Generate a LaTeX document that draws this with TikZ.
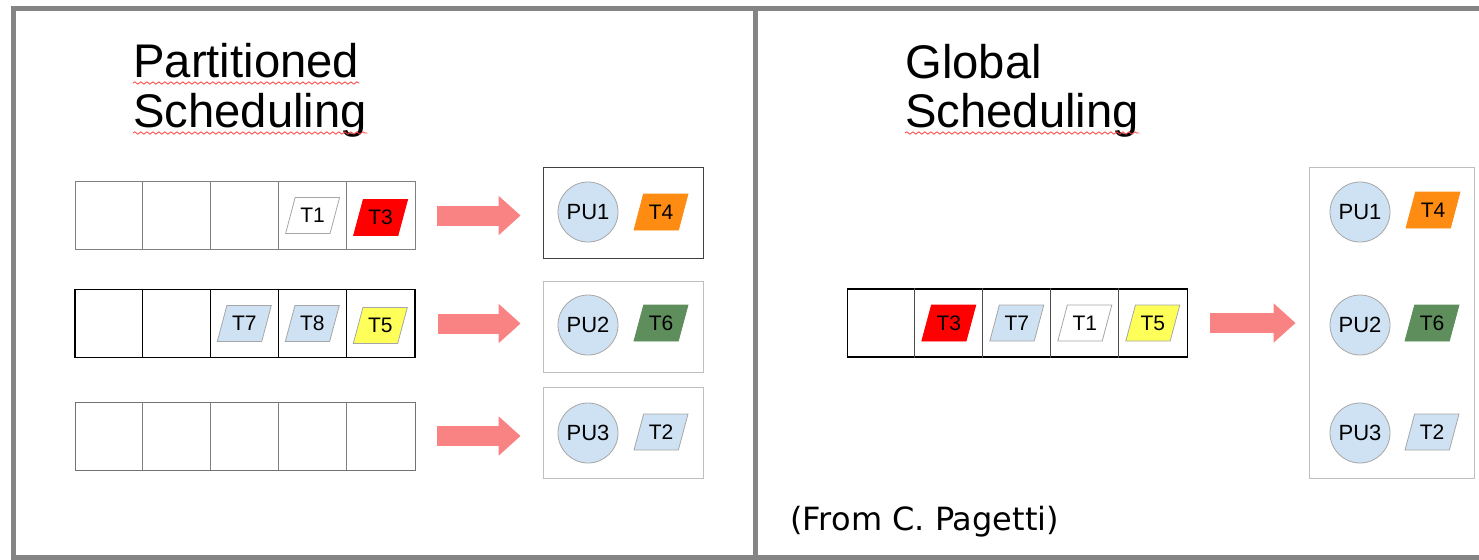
\documentclass[tikz,border=0pt]{standalone}
\usepackage{fontspec}
\setmainfont{Liberation Sans}
\newfontfamily\notefont{DejaVu Sans}
\usetikzlibrary{shapes.geometric,arrows.meta,decorations.pathmorphing,positioning}

\definecolor{framegray}{HTML}{858585}
\definecolor{pulblue}{HTML}{CFE2F3}
\definecolor{pinkarrow}{HTML}{F98282}
\definecolor{taskorange}{HTML}{FF8C12}
\definecolor{taskgreen}{HTML}{5E8E5C}
\definecolor{taskyellow}{HTML}{FFFF5A}

\tikzset{
  title/.style={anchor=base west, inner sep=0pt, font=\fontsize{23.6}{25}\selectfont},
  squiggle/.style={draw=red!75, line width=0.4pt, decorate,
    decoration={snake, amplitude=0.6pt, segment length=3pt}},
  queue/.style={draw, rectangle, minimum width=170pt, minimum height=34pt, inner sep=0pt},
  task/.style={trapezium, trapezium left angle=70, trapezium right angle=110,
    trapezium stretches=true, draw=gray!70, minimum height=18pt, minimum width=27pt,
    inner xsep=0pt, inner ysep=1pt, font=\fontsize{10.5}{12}\selectfont},
  pubox/.style={draw, rectangle, minimum width=80pt, minimum height=45.5pt, inner sep=0pt},
  pucircle/.style={circle, draw=gray!70, fill=pulblue, minimum size=30pt, inner sep=0pt,
    font=\fontsize{11}{13}\selectfont},
  blockarrow/.style={line width=10pt, draw=pinkarrow,
    -{Triangle[width=19pt,length=11pt,fill=pinkarrow]}, shorten <=11pt, shorten >=11pt}
}

\begin{document}
\begin{tikzpicture}[x=0.5pt, y=-0.5pt]
\useasboundingbox (0,0) rectangle (1479,559);
\clip (0,0) rectangle (1479,559);

% frame of the two panels
\draw[framegray, line width=2.5pt] (13,8) rectangle (1520,557);
\draw[framegray, line width=2.5pt] (755,8) -- (755,557);

% titles
\node[title] (pt1) at (133,77) {Partitioned};
\node[title] (pt2) at (133,127) {Scheduling};
\node[title] (gt1) at (905,78) {Global};
\node[title] (gt2) at (905,127) {Scheduling};
\draw[squiggle] ([yshift=-3pt]pt1.base west) -- ([yshift=-3pt]pt1.base east);
\draw[squiggle] ([yshift=-3pt]pt2.base west) -- ([yshift=-3pt]pt2.base east);
\draw[squiggle] ([yshift=-3pt]gt2.base west) -- ([yshift=-3pt]gt2.base east);

%% partitioned: one queue per PU
\node[queue, draw=gray] (q1) at (245,215.5) {};
\node[queue, line width=0.7pt] (q2) at (245,323.5) {};
\node[queue, draw=gray!90!black] (q3) at (245,436) {};
\foreach \i in {1,...,4} {
    \draw[gray] ([xshift=\i*34pt]q1.north west) -- ([xshift=\i*34pt]q1.south west);
    \draw[line width=0.7pt] ([xshift=\i*34pt]q2.north west) -- ([xshift=\i*34pt]q2.south west);
    \draw[gray] ([xshift=\i*34pt]q3.north west) -- ([xshift=\i*34pt]q3.south west);
}

\node[task, fill=white] (p1) at ([xshift=119pt]q1.west) {T1};
\node[task, fill=red, draw=red] (p3) at ([xshift=153pt,yshift=-1pt]q1.west) {T3};
\node[task, fill=pulblue] (p7) at ([xshift=85pt]q2.west) {T7};
\node[task, fill=pulblue] (p8) at ([xshift=119pt]q2.west) {T8};
\node[task, fill=taskyellow] (p5) at ([xshift=153pt,yshift=-1pt]q2.west) {T5};

\node[pubox, draw=gray!50!black] (b1) at (623,212.5) {};
\node[pubox, draw=gray!50] (b2) at (623,326.5) {};
\node[pubox, draw=gray!50] (b3) at (623,432.5) {};

\node[pucircle] (pu1) at (588,212) {PU1};
\node[pucircle] (pu2) at (588,325) {PU2};
\node[pucircle] (pu3) at (588,433) {PU3};
\node[task, fill=taskorange, draw=taskorange] (p4) at (661,212) {T4};
\node[task, fill=taskgreen, draw=taskgreen] (p6) at (661,323) {T6};
\node[task, fill=pulblue] (p2) at (661,432) {T2};

\draw[blockarrow] (q1.east) -- (q1.east -| b1.west);
\draw[blockarrow] (q2.east) -- (q2.east -| b2.west);
\draw[blockarrow] (q3.east) -- (q3.east -| b3.west);

%% global: one queue for all PUs
\node[queue, line width=0.7pt] (gq) at (1017.5,323) {};
\foreach \i in {1,...,4}
    \draw[gray!60!black] ([xshift=\i*34pt]gq.north west) -- ([xshift=\i*34pt]gq.south west);

\node[task, fill=red, draw=red] (g3) at ([xshift=51pt]gq.west) {T3};
\node[task, fill=pulblue] (g7) at ([xshift=85pt]gq.west) {T7};
\node[task, fill=white] (g1) at ([xshift=119pt]gq.west) {T1};
\node[task, fill=taskyellow] (g5) at ([xshift=153pt]gq.west) {T5};

\node[pubox, draw=gray!50, minimum width=82.5pt, minimum height=155.5pt] (gb) at (1391.5,322.5) {};
\node[pucircle] (gpu1) at (1360,212) {PU1};
\node[pucircle] (gpu2) at (1360,325) {PU2};
\node[pucircle] (gpu3) at (1360,433) {PU3};
\node[task, fill=taskorange, draw=taskorange] (g4) at (1433,210) {T4};
\node[task, fill=taskgreen, draw=taskgreen] (g6) at (1432,323) {T6};
\node[task, fill=pulblue] (g2) at (1432,432) {T2};

\draw[blockarrow, shorten >=6.5pt] (gq.east) -- (gq.east -| gb.west);

\node[anchor=base west, inner sep=0pt, font=\notefont\fontsize{16}{18}\selectfont] (note) at (790,530) {(From C. Pagetti)};
\end{tikzpicture}
\end{document}
